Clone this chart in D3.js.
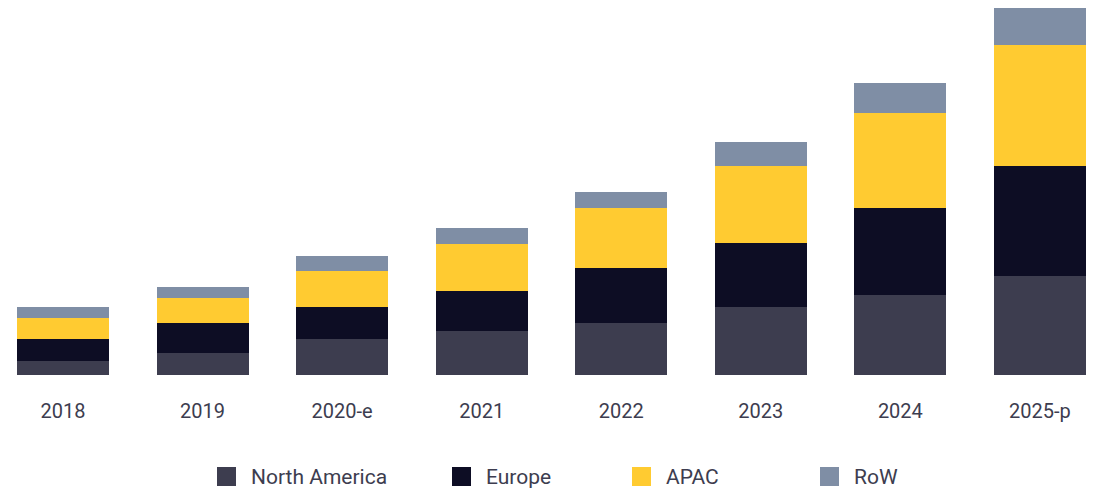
<!DOCTYPE html>
<html>
<head>
<meta charset="utf-8">
<script src="https://cdn.jsdelivr.net/npm/d3@7"></script>
<style>
  html, body { margin: 0; padding: 0; background: #ffffff; }
  svg { display: block; }
  text { font-family: Roboto, "Noto Sans", sans-serif; }
</style>
</head>
<body>
<svg id="chart" width="1094" height="488"></svg>
<script>
const categories = ["2018", "2019", "2020-e", "2021", "2022", "2023", "2024", "2025-p"];
const seriesNames = ["North America", "Europe", "APAC", "RoW"];
const northAmerica = [14, 22, 36, 44, 52, 68, 80, 99];
const europe       = [22, 30, 32, 40, 55, 64, 87, 110];
const apac         = [21, 25, 36, 47, 60, 77, 95, 121];
const row          = [11, 11, 15, 16, 16, 24, 30, 37];
const colors = ["#3d3d4f", "#0d0d24", "#ffcb31", "#7f8ea5"];

const seriesValues = [northAmerica, europe, apac, row];
const table = categories.map((c, i) => {
  const o = { category: c };
  seriesNames.forEach((s, j) => { o[s] = seriesValues[j][i]; });
  return o;
});

const svg = d3.select("#chart");
const baseline = 375;

const x = d3.scaleBand()
  .domain(categories)
  .range([-30.6, 1133.5])
  .paddingInner(0.3408)
  .paddingOuter(0.3408);

const y = d3.scaleLinear()
  .domain([0, 367])
  .range([baseline, 8]);

const stack = d3.stack().keys(seriesNames);
const stacked = stack(table);

svg.append("g")
  .selectAll("g")
  .data(stacked)
  .join("g")
  .attr("fill", (d, i) => colors[i])
  .selectAll("rect")
  .data(d => d)
  .join("rect")
  .attr("x", d => x(d.data.category))
  .attr("width", x.bandwidth())
  .attr("y", d => y(d[1]))
  .attr("height", d => y(d[0]) - y(d[1]))
  .attr("shape-rendering", "crispEdges");

const xAxis = d3.axisBottom(x).tickSize(0).tickPadding(0);
const gx = svg.append("g")
  .attr("transform", `translate(0, ${baseline})`)
  .call(xAxis);
gx.select(".domain").remove();
gx.selectAll("text")
  .attr("dy", null)
  .attr("y", 43)
  .attr("font-size", 20)
  .attr("font-family", "Roboto, sans-serif")
  .attr("fill", "#3d3d4f");

const legendX = [217, 452, 632, 820];
const legend = svg.append("g")
  .selectAll("g")
  .data(seriesNames)
  .join("g")
  .attr("transform", (d, i) => `translate(${legendX[i]}, 467)`);
legend.append("rect")
  .attr("width", 19)
  .attr("height", 19)
  .attr("fill", (d, i) => colors[i]);
legend.append("text")
  .attr("x", 34)
  .attr("y", 17)
  .attr("font-size", 21)
  .attr("fill", "#3d3d4f")
  .text(d => d);
</script>
</body>
</html>
